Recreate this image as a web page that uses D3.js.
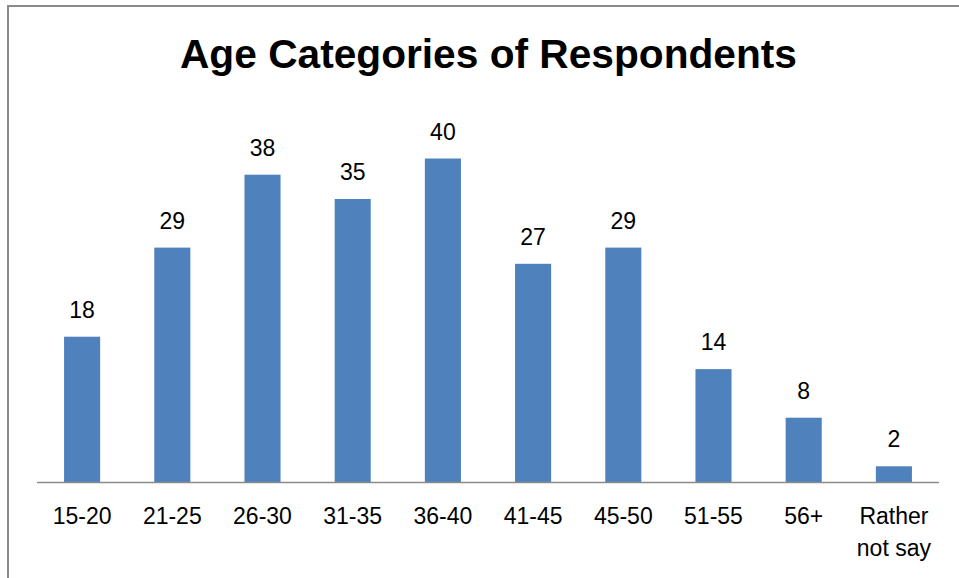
<!DOCTYPE html>
<html>
<head>
<meta charset="utf-8">
<script src="https://cdn.jsdelivr.net/npm/d3@7"></script>
<style>
  body { margin: 0; background: #fff; }
  text { font-family: "Liberation Sans", Arial, sans-serif; }
</style>
</head>
<body>
<svg id="chart" width="959" height="578"></svg>
<script>
// data
const categories = ["15-20", "21-25", "26-30", "31-35", "36-40", "41-45", "45-50", "51-55", "56+", "Rather not say"];
const counts = [18, 29, 38, 35, 40, 27, 29, 14, 8, 2];
const title = "Age Categories of Respondents";

const width = 959, height = 578;
const left = 37, right = 939, baseY = 482.5;

const svg = d3.select("#chart");

// outer frame (top and left edges show)
svg.append("path")
    .attr("d", `M8,${height} L8,6 L${width},6`)
    .attr("fill", "none")
    .attr("stroke", "#8a8a8a")
    .attr("stroke-width", 2);

svg.append("text")
    .attr("x", 488.5)
    .attr("y", 68)
    .attr("text-anchor", "middle")
    .attr("font-size", 40)
    .attr("font-weight", "bold")
    .attr("textLength", 617)
    .attr("lengthAdjust", "spacingAndGlyphs")
    .text(title);

let x = d3.scaleBand().domain(categories).range([left, right]).paddingInner(0.6).paddingOuter(0.3);
let y = d3.scaleLinear().domain([0, 40]).range([baseY, 158.5]);

svg.append("g")
    .selectAll("rect")
    .data(counts)
    .enter()
    .append("rect")
    .attr("x", (d, i) => x(categories[i]))
    .attr("y", d => y(d))
    .attr("width", x.bandwidth())
    .attr("height", d => baseY - y(d))
    .attr("fill", "#4f81bd");

// value labels
svg.append("g")
    .selectAll("text")
    .data(counts)
    .enter()
    .append("text")
    .attr("x", (d, i) => x(categories[i]) + x.bandwidth() / 2)
    .attr("y", d => y(d) - 19)
    .attr("text-anchor", "middle")
    .attr("font-size", 23)
    .attr("fill", "#000")
    .text(d => d);

// x axis, no ticks
let xAxis = d3.axisBottom(x).tickSize(0).tickPadding(0).tickFormat("");
const ax = svg.append("g").attr("transform", `translate(0, ${baseY})`).call(xAxis);
ax.select(".domain").attr("stroke", "#8c8c8c").attr("stroke-width", 1.5)
    .attr("d", `M${left},0H${right}`);

const labels = svg.append("g")
    .selectAll("text")
    .data(categories)
    .enter()
    .append("text")
    .attr("x", d => x(d) + x.bandwidth() / 2)
    .attr("y", 524)
    .attr("text-anchor", "middle")
    .attr("font-size", 23)
    .attr("fill", "#000");

labels.each(function(d) {
    const t = d3.select(this);
    const parts = d === "Rather not say" ? ["Rather", "not say"] : [d];
    parts.forEach((p, j) => {
        t.append("tspan")
            .attr("x", x(d) + x.bandwidth() / 2)
            .attr("dy", j === 0 ? 0 : 32)
            .text(p);
    });
});
</script>
</body>
</html>
